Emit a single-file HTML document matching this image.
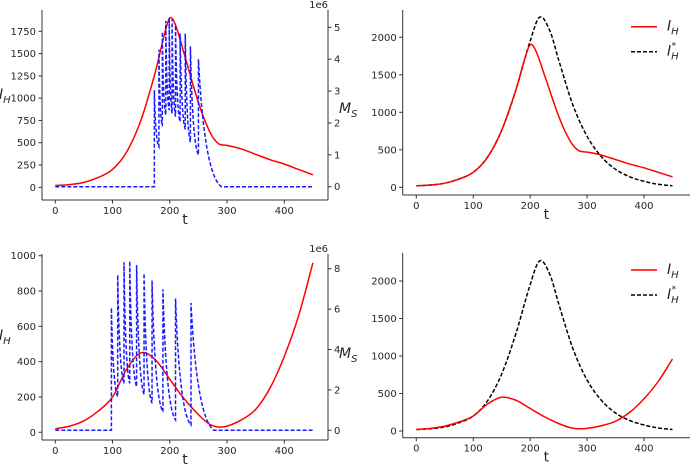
<!DOCTYPE html>
<html><head><meta charset="utf-8"><style>
body{margin:0;background:#fff;}
svg{display:block;font-family:"DejaVu Sans","Liberation Sans",sans-serif;}
</style></head><body>
<svg id="fig" width="690" height="467" viewBox="0 0 690 467" xmlns="http://www.w3.org/2000/svg"></svg>
<script>
// ---- data ----
const tRef = [0,25,50,75,100,125,150,175,200,217,235,250,275,300,325,350,375,400,425,450];
const ihStar = [20,30,55,110,200,400,760,1300,1950,2270,2080,1700,1100,680,410,240,140,80,40,20];
const tTop = [0,25,50,75,100,125,150,175,190,200,210,225,250,270,285,300,325,350,375,400,425,450];
const ihTop = [20,30,55,110,200,400,760,1300,1700,1900,1820,1500,950,620,490,470,430,370,310,260,200,140];
const tBot = [0,25,50,75,100,125,150,175,200,225,250,270,285,300,325,350,375,400,425,450];
const ihBot = [20,35,65,120,200,360,450,410,300,190,100,45,30,35,70,130,250,430,660,960];
const spikeTTop = [173,181,187,193,199,204,210,218,227,236,250];
const spikePeakTop = [3.03,4.3,4.86,5.2,5.3,5.25,5.07,4.8,4.8,4.4,4.0];
const spikeTroughTop = [1.25,1.9,2.25,2.4,2.3,2.2,2.04,1.8,1.4,1.0,0];
const spikeTBot = [98,109,120,130,142,155,169,188,210,237];
const spikePeakBot = [6.07,7.69,8.32,8.38,8.18,7.77,7.41,6.98,6.53,6.3];
const spikeTroughBot = [1.67,2.33,2.33,2.16,1.78,1.34,0.92,0.51,0.26,0];
const tEnd = 450;
const xTicks = [0,100,200,300,400];
const yTicksTL = [0,250,500,750,1000,1250,1500,1750];
const rTicksTL = [0,1,2,3,4,5];
const yTicksBL = [0,200,400,600,800,1000];
const rTicksBL = [0,2,4,6,8];
const yTicksR = [0,500,1000,1500,2000];

const NS="http://www.w3.org/2000/svg";
const svg=document.getElementById('fig');
function mk(tag,attrs,parent){const e=document.createElementNS(NS,tag);for(const k in attrs)e.setAttribute(k,attrs[k]);(parent||svg).appendChild(e);return e;}
function lin(d0,d1,p0,p1){return v=>p0+(v-d0)*(p1-p0)/(d1-d0);}
function smoothPath(ts,vs,X,Y){const n=ts.length;const m=[];
  for(let i=0;i<n;i++){if(i==0)m.push((vs[1]-vs[0])/(ts[1]-ts[0]));else if(i==n-1)m.push((vs[n-1]-vs[n-2])/(ts[n-1]-ts[n-2]));else m.push((vs[i+1]-vs[i-1])/(ts[i+1]-ts[i-1]));}
  let d=`M${X(ts[0])},${Y(vs[0])}`;
  for(let i=0;i<n-1;i++){const h=ts[i+1]-ts[i];
    d+=`C${X(ts[i]+h/3)},${Y(vs[i]+m[i]*h/3)} ${X(ts[i+1]-h/3)},${Y(vs[i+1]-m[i+1]*h/3)} ${X(ts[i+1])},${Y(vs[i+1])}`;}
  return d;}
function text(x,y,s,anchor,size,parent,name){const t=mk('text',{x:x,y:y,'text-anchor':anchor,'font-size':size,fill:'#262626'},parent);t.textContent=s;return t;}
function ihLabel(x,y,star,g,name){const t=mk('text',{x:x,y:y,'font-size':14,'font-style':'italic',fill:'#262626'},g);
t.appendChild(document.createTextNode('I'));const s=mk('tspan',{'font-size':10,dy:4},t);s.textContent='H';if(star){const s2=mk('tspan',{'font-size':9,dx:-7,dy:-11},t);s2.textContent='*';}return t;}

function panel(cfg){
  const g=mk('g',{});
  const X=lin(0,400,cfg.x0,cfg.x400), Y=lin(cfg.yd0,cfg.yd1,cfg.yp0,cfg.yp1);
  const ax=mk('g',{},g);
  mk('line',{x1:cfg.L,y1:cfg.T,x2:cfg.L,y2:cfg.B,stroke:'#333','stroke-width':1},ax);
  mk('line',{x1:cfg.L,y1:cfg.B,x2:cfg.R,y2:cfg.B,stroke:'#333','stroke-width':1},ax);
  if(cfg.twin) mk('line',{x1:cfg.R,y1:cfg.T,x2:cfg.R,y2:cfg.B,stroke:'#333','stroke-width':1},ax);
  xTicks.forEach(v=>{const x=X(v);mk('line',{x1:x,y1:cfg.B,x2:x,y2:cfg.B+3.5,stroke:'#333'},ax);text(x,cfg.B+14,String(v),'middle',10,ax,'x-tick-label');});
  cfg.yTicks.forEach(v=>{const y=Y(v);mk('line',{x1:cfg.L,y1:y,x2:cfg.L-3.5,y2:y,stroke:'#333'},ax);text(cfg.L-6,y+3.5,String(v),'end',10,ax,'y-tick-label');});
  text((cfg.L+cfg.R)/2,cfg.B+24,'t','middle',14,ax,'x-axis-title');
  if(cfg.ylab) ihLabel(-1,cfg.ylabY,false,ax,'y-axis-title');
  cfg.lines.forEach(s=>{const p=mk('path',{d:smoothPath(s.t,s.v,X,Y),fill:'none',stroke:s.color,'stroke-width':1.5,'stroke-dasharray':s.dash||'none'},g);});
  if(cfg.twin){
    const R=lin(0,cfg.rd1,cfg.rp0,cfg.rp1);
    cfg.rTicks.forEach(v=>{const y=R(v);mk('line',{x1:cfg.R,y1:y,x2:cfg.R+3.5,y2:y,stroke:'#333'},ax);text(cfg.R+6,y+3.5,String(v),'start',10,ax,'right-tick-label');});
    text(cfg.R,cfg.T-2,'1e6','end',10,ax,'right-axis-offset');
    const ml=mk('text',{x:cfg.R+11,y:cfg.mlY,'font-size':14,'font-style':'italic',fill:'#262626'},ax);ml.appendChild(document.createTextNode('M'));const sb=mk('tspan',{'font-size':10,dy:4},ml);sb.textContent='S';
    let d=`M${X(0)},${R(0)}L${X(cfg.st[0])},${R(0)}`;
    for(let i=0;i<cfg.st.length;i++){const t0=cfg.st[i],t1=(i+1<cfg.st.length)?cfg.st[i+1]:t0+40;const y0=R(cfg.sp[i]),y1=R(cfg.sr[i]);
      d+=`L${X(t0)},${y0}Q${X(t0+(t1-t0)*0.25)},${y1+(y0-y1)*0.1} ${X(t1)},${y1}`;}
    d+=`L${X(tEnd)},${R(0)}`;
    const p=mk('path',{d:d,fill:'none',stroke:'#1a1aff','stroke-width':1.5,'stroke-dasharray':'4,2'},g);
  }
  if(cfg.legend){const lg=mk('g',{},g);
    mk('line',{x1:631,y1:cfg.legY,x2:657,y2:cfg.legY,stroke:'red','stroke-width':1.5},lg);ihLabel(667,cfg.legY+4,false,lg,'legend-ih');
    mk('line',{x1:631,y1:cfg.legY+25,x2:657,y2:cfg.legY+25,stroke:'#000','stroke-width':1.5,'stroke-dasharray':'4,2'},lg);ihLabel(667,cfg.legY+29,true,lg,'legend-ih-star');}
}
panel({name:'panel-top-left',L:42,R:328,T:10,B:200,x0:55.3,x400:284.3,yd0:0,yd1:1750,yp0:187.3,yp1:31.3,yTicks:yTicksTL,ylab:true,ylabY:99,
  twin:true,rd1:5,rp0:186.7,rp1:27.3,rTicks:rTicksTL,mlY:113,st:spikeTTop,sp:spikePeakTop,sr:spikeTroughTop,
  lines:[{t:tTop,v:ihTop,color:'red',name:'ih-series'}]});
panel({name:'panel-bottom-left',L:42,R:328,T:254,B:440,x0:55.3,x400:284.3,yd0:0,yd1:1000,yp0:432.3,yp1:255.7,yTicks:yTicksBL,ylab:true,ylabY:340,
  twin:true,rd1:8,rp0:430.3,rp1:268.7,rTicks:rTicksBL,mlY:358,st:spikeTBot,sp:spikePeakBot,sr:spikeTroughBot,
  lines:[{t:tBot,v:ihBot,color:'red',name:'ih-series'}]});
panel({name:'panel-top-right',L:402.7,R:690,T:10,B:195,x0:416.3,x400:644,yd0:0,yd1:2000,yp0:187.3,yp1:37.3,yTicks:yTicksR,legend:true,legY:26.7,
  lines:[{t:tRef,v:ihStar,color:'#000',dash:'4,2',name:'ih-star-series'},{t:tTop,v:ihTop,color:'red',name:'ih-series'}]});
panel({name:'panel-bottom-right',L:402.7,R:690,T:253,B:437.7,x0:416.3,x400:644,yd0:0,yd1:2000,yp0:431,yp1:281,yTicks:yTicksR,legend:true,legY:270,
  lines:[{t:tRef,v:ihStar,color:'#000',dash:'4,2',name:'ih-star-series'},{t:tBot,v:ihBot,color:'red',name:'ih-series'}]});
</script>
</body></html>
